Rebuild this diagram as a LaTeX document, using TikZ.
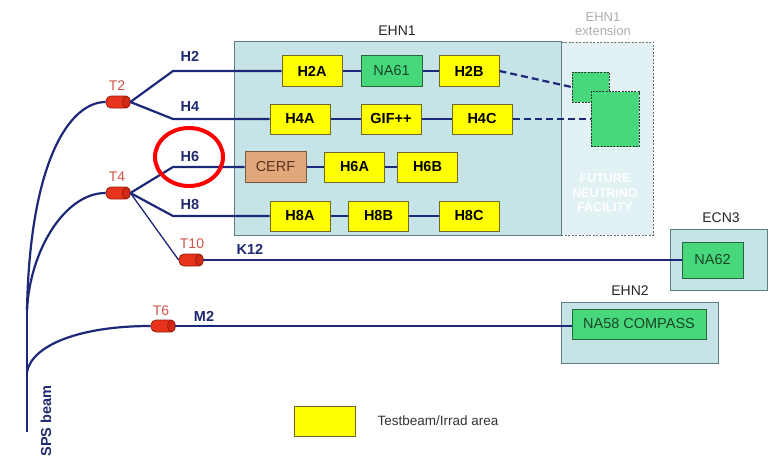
\documentclass[tikz,border=0pt]{standalone}
\usepackage{fontspec}
\setmainfont{Liberation Sans}
\usetikzlibrary{shapes.geometric,calc}
\definecolor{navy}{RGB}{30,40,120}
\definecolor{navytext}{RGB}{32,42,110}
\definecolor{tlabel}{RGB}{205,85,75}
\definecolor{tred}{RGB}{232,52,28}
\definecolor{treddark}{RGB}{150,30,15}
\definecolor{tredend}{RGB}{210,40,20}
\definecolor{hallfill}{RGB}{198,228,232}
\definecolor{hallborder}{RGB}{95,125,130}
\definecolor{extfill}{RGB}{226,241,244}
\definecolor{extborder}{RGB}{110,110,110}
\definecolor{extlabel}{RGB}{175,175,175}
\definecolor{yfill}{RGB}{255,255,0}
\definecolor{yborder}{RGB}{110,105,40}
\definecolor{gfill}{RGB}{72,216,124}
\definecolor{gborder}{RGB}{40,100,60}
\definecolor{cfill}{RGB}{224,168,122}
\definecolor{cborder}{RGB}{120,90,60}
\definecolor{ctext}{RGB}{90,50,30}
\definecolor{gtext}{RGB}{25,70,40}
\tikzset{
  hall/.style={rectangle, draw=hallborder, fill=hallfill, line width=1, inner sep=0},
  extbox/.style={rectangle, draw=extborder, fill=extfill, dashed, dash pattern=on 2pt off 1.5pt, line width=0.9, inner sep=0},
  area/.style={rectangle, draw=yborder, fill=yfill, line width=1, minimum width=60, minimum height=30, inner sep=0, font=\fontsize{14.5}{16}\selectfont\bfseries},
  expt/.style={rectangle, draw=gborder, fill=gfill, line width=1, minimum height=30, inner sep=0, text=gtext, font=\fontsize{14.5}{16}\selectfont},
  cerfbox/.style={rectangle, draw=cborder, fill=cfill, line width=1, minimum width=61, minimum height=31, inner sep=0, text=ctext, font=\fontsize{14.5}{16}\selectfont},
  futbox/.style={rectangle, draw=black!80, fill=gfill, dashed, dash pattern=on 2pt off 1.2pt, line width=1, inner sep=0},
  beam/.style={draw=navy, line width=2.2},
  thinbeam/.style={draw=navy, line width=1.3},
  dashbeam/.style={draw=navy, line width=2.2, dash pattern=on 7pt off 4pt},
  tgt/.style={rectangle, rounded corners=5, fill=tred, draw=treddark, line width=0.8, minimum width=24, minimum height=12, inner sep=0},
  tgtend/.style={fill=tredend, draw=treddark, line width=0.8},
  blab/.style={text=navytext, font=\fontsize{14.5}{16}\selectfont\bfseries},
  tlab/.style={text=tlabel, font=\fontsize{14}{16}\selectfont},
  hlab/.style={text=black!85, font=\fontsize{14}{16}\selectfont},
  extlab/.style={text=extlabel, font=\fontsize{13}{14}\selectfont, align=center},
  futlab/.style={text=white, font=\fontsize{12.5}{14.5}\selectfont\bfseries, align=center},
}
\begin{document}
\begin{tikzpicture}[x=1pt,y=-1pt]
\useasboundingbox[fill=white] (0,0) rectangle (776,460);

% halls
\node[extbox, minimum width=92, minimum height=193] (ext) at (607,138.5) {};
\node[hall, minimum width=327, minimum height=193] (ehn1) at (397.5,138.5) {};
\node[hall, minimum width=97, minimum height=61] (ecn3) at (718.5,259.5) {};
\node[hall, minimum width=157, minimum height=61] (ehn2) at (639.5,332.5) {};

\node[hlab] (ehn1lab) at (397,31) {EHN1};
\node[extlab] (extlab) at (603,24) {EHN1\\extension};
\node[futlab] (futlab) at (605,193) {FUTURE\\NEUTRINO\\FACILITY};
\node[hlab] (ecn3lab) at (721,218) {ECN3};
\node[hlab] (ehn2lab) at (630,291) {EHN2};

% future facility boxes
\node[futbox, minimum width=37, minimum height=30] (fut1) at (590.5,87) {};
\node[futbox, minimum width=48, minimum height=55] (fut2) at (615,119) {};

% targets
\node[tgt] (T2) at (118,102) {};
\node[tgt] (T4) at (118,193) {};
\node[tgt] (T10) at (191,260) {};
\node[tgt] (T6) at (163,326) {};
\foreach \t in {T2,T4,T10,T6}
  \draw[tgtend] ([xshift=-4]\t.east) ellipse (3.8 and 6);

\node[tlab] (T2lab) at (117,86) {T2};
\node[tlab] (T4lab) at (117,177) {T4};
\node[tlab] (T10lab) at (192,244) {T10};
\node[tlab] (T6lab) at (161,311) {T6};

% areas
\node[area] (H2A) at (312,71) {H2A};
\node[expt, minimum width=61] (NA61) at (391.5,71) {NA61};
\node[area] (H2B) at (469,71) {H2B};
\node[area] (H4A) at (300,119) {H4A};
\node[area] (GIF) at (391,119) {GIF++};
\node[area] (H4C) at (482,119) {H4C};
\node[cerfbox] (CERF) at (275.5,167) {CERF};
\node[area] (H6A) at (354.5,167) {H6A};
\node[area] (H6B) at (427.5,167) {H6B};
\node[area] (H8A) at (300,216) {H8A};
\node[area] (H8B) at (378.5,216) {H8B};
\node[area] (H8C) at (469,216) {H8C};
\node[expt, minimum width=61, minimum height=36] (NA62) at (712.5,260) {NA62};
\node[expt, minimum width=134] (NA58) at (639,324) {NA58 COMPASS};

% beam labels
\node[blab] (H2lab) at (190,56) {H2};
\node[blab] (H4lab) at (190,107) {H4};
\node[blab] (H6lab) at (190,157) {H6};
\node[blab] (H8lab) at (190,205) {H8};
\node[blab] (K12lab) at (250,249) {K12};
\node[blab] (M2lab) at (204,316) {M2};
\node[blab, rotate=90] (SPSlab) at (46,421) {SPS beam};

% coordinates
\coordinate (sps) at (27,432);
\coordinate (split) at (27,310);
\coordinate (m2split) at (27,372);
\coordinate (k2) at (173,71);
\coordinate (k4) at (173,119);
\coordinate (k6) at (173,167);
\coordinate (k8) at (173,216);

% beam lines
\draw[beam] (sps) -- (split);
\draw[beam] (split) .. controls (30,160) and (70,102) .. (T2.west);
\draw[beam] (split) .. controls (30,250) and (65,193) .. (T4.west);
\draw[beam] (m2split) .. controls (32,345) and (80,326) .. (T6.west);

\draw[beam] (T2.east) -- (k2) -- (H2A.west);
\draw[beam] (T2.east) -- (k4) -- (H4A.west);
\draw[beam] (T4.east) -- (k6) -- (CERF.west);
\draw[beam] (T4.east) -- (k8) -- (H8A.west);
\draw[thinbeam] (T4.east) -- (T10.west);
\draw[beam] (T10.east) -- (NA62.west);
\draw[beam] (T6.east) -- (T6.east -| NA58.west);

\draw[beam] (H2A.east) -- (NA61.west);
\draw[beam] (NA61.east) -- (H2B.west);
\draw[beam] (H4A.east) -- (GIF.west);
\draw[beam] (GIF.east) -- (H4C.west);
\draw[beam] (CERF.east) -- (H6A.west);
\draw[beam] (H6A.east) -- (H6B.west);
\draw[beam] (H8A.east) -- (H8B.west);
\draw[beam] (H8B.east) -- (H8C.west);

\draw[dashbeam] (H2B.east) -- (fut1.west);
\draw[dashbeam] (H4C.east) -- (fut2.west);

% highlight
\node[ellipse, draw=red, line width=4, minimum width=68, minimum height=58, inner sep=0] (mark) at (189,157) {};

% legend
\node[area, minimum width=61] (leg) at (324.5,421) {};
\node[text=black!80, font=\fontsize{13.5}{16}\selectfont, anchor=west] (legtext) at (374,421) {Testbeam/Irrad area};
\end{tikzpicture}
\end{document}
